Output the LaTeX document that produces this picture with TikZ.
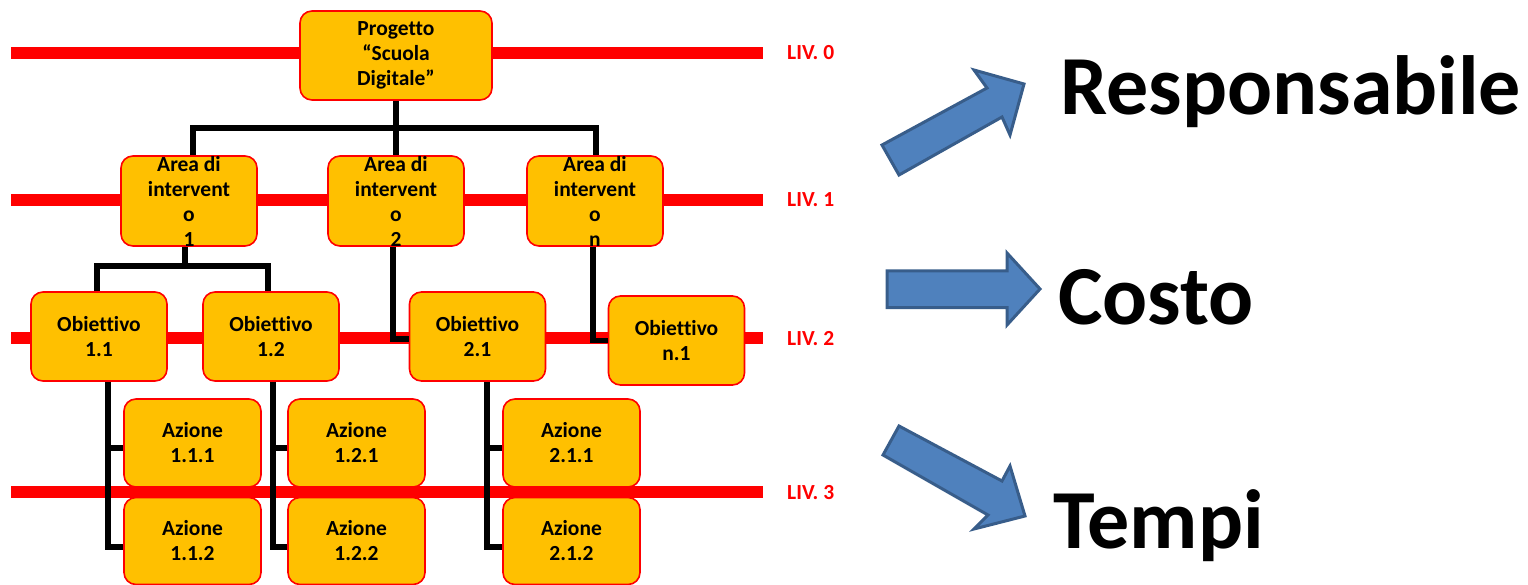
\documentclass[tikz,border=0pt]{standalone}
\usepackage{fontspec}
\setmainfont{Carlito}[Ligatures=NoCommon]
\usetikzlibrary{calc}
\definecolor{boxfill}{HTML}{FFC000}
\definecolor{arrfill}{HTML}{4F81BD}
\definecolor{arrline}{HTML}{385D8A}
\definecolor{livred}{HTML}{FF0000}
\begin{document}
\begin{tikzpicture}[x=1pt,y=-1pt,
  box/.style={draw=livred, line width=1.6, fill=boxfill, rounded corners=12, inner sep=0,
    minimum width=136, minimum height=89},
  boxtext/.style={align=center, inner sep=0, font=\fontsize{21.5}{25}\selectfont\bfseries},
  levline/.style={livred, line width=12},
  levlabel/.style={anchor=base west, inner sep=0, text=livred, font=\fontsize{21.5}{25}\selectfont\bfseries},
  conn/.style={black, line width=5.5},
  bigarrow/.style={fill=arrfill, draw=arrline, line width=3},
  bigtext/.style={anchor=base west, inner sep=0, font=\fontsize{84}{100}\selectfont\bfseries}
]
\useasboundingbox (0,0) rectangle (1528,585);

% level lines
\foreach \y/\n in {53/0,200/1,338/2,492/3}{
  \draw[levline] (11,\y) -- (763,\y);
  \node[levlabel] (liv\n) at (787,\y+7) {LIV. \n};
}

% boxes
\node[box, minimum width=192] (root) at (396,55.5) {};
\node[boxtext] at (root) {Progetto\\“Scuola\\Digitale”};

\node[box, minimum height=90] (ar1) at (189,201) {};
\node[box, minimum height=90] (ar2) at (396,201) {};
\node[box, minimum height=90] (arn) at (595,201) {};
\node[boxtext] at (ar1) {Area di\\intervent\\o\\1};
\node[boxtext] at (ar2) {Area di\\intervent\\o\\2};
\node[boxtext] at (arn) {Area di\\intervent\\o\\n};

\node[box] (o11) at (99,336.5) {};
\node[box] (o12) at (271,336.5) {};
\node[box] (o21) at (477.5,336.5) {};
\node[box] (on1) at (676.5,340.5) {};
\node[boxtext] at (o11) {Obiettivo\\1.1};
\node[boxtext] at (o12) {Obiettivo\\1.2};
\node[boxtext] at (o21) {Obiettivo\\2.1};
\node[boxtext] at (on1) {Obiettivo\\n.1};

\node[box, minimum width=137, minimum height=88] (a111) at (192.5,443) {};
\node[box, minimum width=137, minimum height=87] (a112) at (192.5,541) {};
\node[box, minimum width=137, minimum height=88] (a121) at (356.5,443) {};
\node[box, minimum width=137, minimum height=87] (a122) at (356.5,541) {};
\node[box, minimum width=137, minimum height=88] (a211) at (571.5,443) {};
\node[box, minimum width=137, minimum height=87] (a212) at (571.5,541) {};
\node[boxtext] at (a111) {Azione\\1.1.1};
\node[boxtext] at (a112) {Azione\\1.1.2};
\node[boxtext] at (a121) {Azione\\1.2.1};
\node[boxtext] at (a122) {Azione\\1.2.2};
\node[boxtext] at (a211) {Azione\\2.1.1};
\node[boxtext] at (a212) {Azione\\2.1.2};

% connectors
\coordinate (j0) at (396,128);
\draw[conn] (root.south) -- (ar2.north);
\draw[conn] ($(ar1.north)+(4,0)$) |- (j0) -| ($(arn.north)+(1,0)$);

\coordinate (j1) at (185,266);
\draw[conn] ($(ar1.south)+(-4,0)$) -- (j1);
\draw[conn] ($(o11.north)+(-2,0)$) |- (j1) -| ($(o12.north)+(-3,0)$);

\draw[conn] ($(ar2.south)+(-3,0)$) |- ($(o21.west)+(0,2.5)$);
\draw[conn] ($(arn.south)+(-2,0)$) |- (on1.west);

\draw[conn] ($(o11.south)+(9,0)$) |- ($(a112.west)+(0,6)$);
\draw[conn] ($(a111.west)+(0,5)$) -| ($(o11.south)+(9,0)$);
\draw[conn] ($(o12.south)+(2,0)$) |- ($(a122.west)+(0,6)$);
\draw[conn] ($(a121.west)+(0,5)$) -| ($(o12.south)+(2,0)$);
\draw[conn] ($(o21.south)+(9.5,0)$) |- ($(a212.west)+(0,6)$);
\draw[conn] ($(a211.west)+(0,5)$) -| ($(o21.south)+(9.5,0)$);

% big arrows
\draw[bigarrow] (882,145) -- (987,88) -- (974,70) -- (1024,84) -- (1010,135) -- (1002,117) -- (899,175) -- cycle;
\draw[bigarrow] (887,271) -- (1007,271) -- (1007,253) -- (1040,289) -- (1007,325) -- (1007,307.5) -- (887,307.5) -- cycle;
\draw[bigarrow] (899,426) -- (883,455) -- (988,515) -- (974,529) -- (1025,516) -- (1010,466) -- (1002,481) -- cycle;

\node[bigtext] (resp) at (1060,115) {Responsabile};
\node[bigtext] (costo) at (1058,324) {Costo};
\node[bigtext] (tempi) at (1053,548) {Tempi};
\end{tikzpicture}
\end{document}
